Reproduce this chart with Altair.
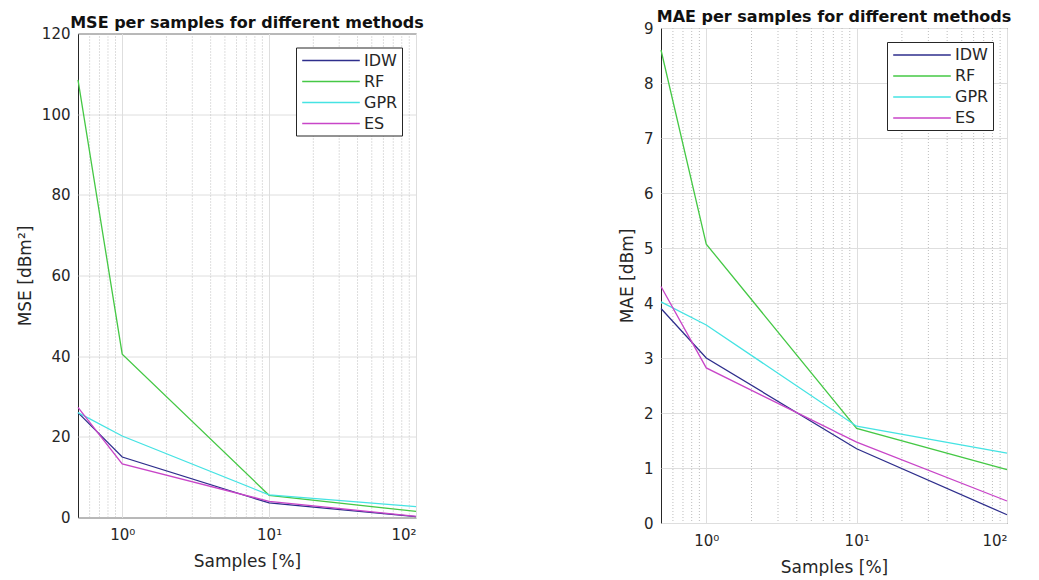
import altair as alt
import pandas as pd

samples = [0.5, 1, 10, 100]
methods = ["IDW", "RF", "GPR", "ES"]
colors = ["#2e2e8c", "#45c845", "#45e3e3", "#c845c8"]

mse_idw = [26.0, 15.0, 3.6, 0.2]
mse_rf = [108.5, 40.5, 5.5, 1.5]
mse_gpr = [26.0, 20.2, 5.6, 2.7]
mse_es = [27.3, 13.3, 4.0, 0.3]

mae_idw = [3.9, 3.0, 1.35, 0.15]
mae_rf = [8.6, 5.07, 1.72, 0.97]
mae_gpr = [4.02, 3.6, 1.76, 1.27]
mae_es = [4.3, 2.82, 1.47, 0.4]

minor_x = [0.6, 0.7, 0.8, 0.9, 2, 3, 4, 5, 6, 7, 8, 9, 20, 30, 40, 50, 60, 70, 80, 90]
x_ticks = [1, 10, 100]
mse_ticks = [0, 20, 40, 60, 80, 100, 120]
mae_ticks = [0, 1, 2, 3, 4, 5, 6, 7, 8, 9]


def long_df(series):
    rows = []
    for m, vals in zip(methods, series):
        for x, v in zip(samples, vals):
            rows.append({"x": x, "method": m, "v": v})
    return pd.DataFrame(rows)


mse_df = long_df([mse_idw, mse_rf, mse_gpr, mse_es])
mae_df = long_df([mae_idw, mae_rf, mae_gpr, mae_es])
minor_df = pd.DataFrame({"x": minor_x})

FONT = "DejaVu Sans"
TXT = "#262626"

xscale = alt.Scale(type="log", domain=[0.5, 100], nice=False)
xaxis = alt.Axis(
    values=x_ticks,
    labelExpr="datum.value == 1 ? '10⁰' : datum.value == 10 ? '10¹' : '10²'",
    grid=True,
    gridColor="#dedede",
    ticks=False,
    domain=False,
    labelPadding=10,
    titlePadding=11,
)


def panel(df, ytitle, ydom, yticks, w, h, title, toff):
    minor = alt.Chart(minor_df).mark_rule(
        strokeDash=[1, 2], color="#bdbdbd", strokeWidth=1
    ).encode(x=alt.X("x:Q", scale=xscale, title="Samples [%]", axis=xaxis))

    lines = alt.Chart(df).mark_line(strokeWidth=1.3).encode(
        x=alt.X("x:Q", scale=xscale, title="Samples [%]", axis=xaxis),
        y=alt.Y(
            "v:Q",
            scale=alt.Scale(domain=ydom, nice=False, zero=True),
            title=ytitle,
            axis=alt.Axis(
                values=yticks,
                grid=True,
                gridColor="#dedede",
                ticks=False,
                domain=False,
                labelPadding=8,
                titlePadding=7,
            ),
        ),
        color=alt.Color(
            "method:N",
            scale=alt.Scale(domain=methods, range=colors),
            legend=alt.Legend(
                title=None,
                orient="top-right",
                offset=14,
                fillColor="white",
                strokeColor="#262626",
                padding=4,
                symbolType="M-3.6,0H3.6",
                symbolSize=256,
                symbolStrokeWidth=1.3,
                symbolOffset=22,
                labelOffset=24,
                labelFontSize=16,
                labelFont=FONT,
                labelColor=TXT,
                rowPadding=4,
            ),
        ),
    )
    return alt.layer(minor, lines).properties(
        width=w,
        height=h,
        title=alt.TitleParams(
            title, fontSize=16, font=FONT, fontWeight="bold", color="#111111",
            offset=toff, anchor="middle",
        ),
    )


left = panel(mse_df, "MSE [dBm²]", [0, 120], mse_ticks, 338, 484,
             "MSE per samples for different methods", -4)
right = panel(mae_df, "MAE [dBm]", [0, 9], mae_ticks, 346, 495,
              "MAE per samples for different methods", -4)

chart = alt.hconcat(left, right, spacing=245, bounds="flush", center=True).resolve_scale(
    color="independent"
).resolve_legend(
    color="independent"
).properties(
    padding={"left": 7, "top": 0, "right": 0, "bottom": 0},
    background="white",
).configure_view(
    stroke="#262626", strokeWidth=1
).configure_axis(
    labelFont=FONT, labelFontSize=15, labelColor=TXT,
    titleFont=FONT, titleFontSize=17, titleColor=TXT, titleFontWeight="normal",
)

chart.save("out.html", embed_options={"renderer": "svg", "actions": False})
